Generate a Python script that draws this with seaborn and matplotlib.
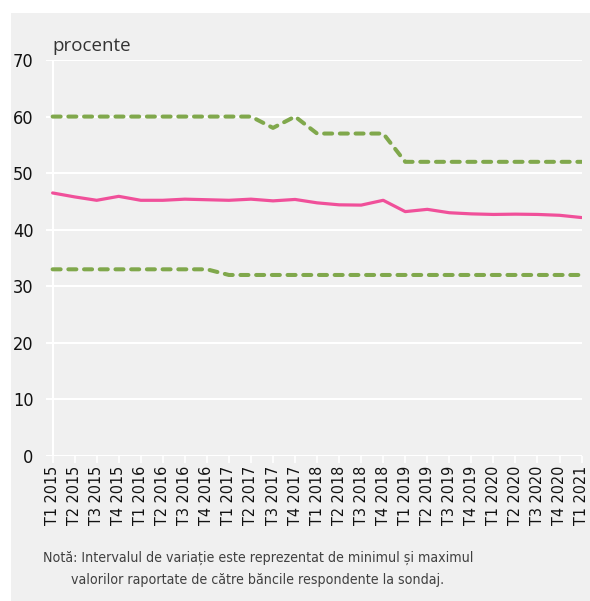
import matplotlib.pyplot as plt
import pandas as pd
import seaborn as sb
from matplotlib.patches import Rectangle

# trimestre
trimestre = ['T1 2015', 'T2 2015', 'T3 2015', 'T4 2015',
             'T1 2016', 'T2 2016', 'T3 2016', 'T4 2016',
             'T1 2017', 'T2 2017', 'T3 2017', 'T4 2017',
             'T1 2018', 'T2 2018', 'T3 2018', 'T4 2018',
             'T1 2019', 'T2 2019', 'T3 2019', 'T4 2019',
             'T1 2020', 'T2 2020', 'T3 2020', 'T4 2020',
             'T1 2021']
media = [46.5, 45.8, 45.2, 45.9, 45.2, 45.2, 45.4, 45.3, 45.2, 45.4, 45.1, 45.35,
         44.75, 44.4, 44.35, 45.2, 43.2, 43.6, 43.0, 42.8, 42.7, 42.75, 42.7, 42.55,
         42.15]
maxim = [60, 60, 60, 60, 60, 60, 60, 60, 60, 60, 58, 60,
         57, 57, 57, 57, 52, 52, 52, 52, 52, 52, 52, 52, 52]
minim = [33, 33, 33, 33, 33, 33, 33, 33, 32, 32, 32, 32,
         32, 32, 32, 32, 32, 32, 32, 32, 32, 32, 32, 32, 32]
y_ticks = [0, 10, 20, 30, 40, 50, 60, 70]

fundo = '#f0f0f0'
roz = '#f0509a'
verde = '#80a84c'

sb.set_style('whitegrid', {'axes.facecolor': fundo, 'grid.color': 'white',
                           'axes.edgecolor': fundo})
plt.rcParams['font.family'] = ['DejaVu Sans']
plt.rcParams['font.stretch'] = 'condensed'

df = pd.DataFrame({'pos': range(len(trimestre)), 'media': media,
                   'max': maxim, 'min': minim})

fig = plt.figure(figsize=(5.9, 6.01), dpi=100, facecolor='white')
fundo_fig = Rectangle((11 / 590, 0), 1, 1 - 13 / 601, transform=fig.transFigure,
                      facecolor=fundo, edgecolor='none', zorder=-10)
fig.patches.append(fundo_fig)
ax = fig.add_axes([46 / 590, 1 - 456 / 601, (582 - 46) / 590, (456 - 60) / 601])
ax.set_zorder(5)

ax.axvline(0, color='white', lw=1.5, zorder=1)
sb.lineplot(data=df, x='pos', y='media', color=roz, lw=2.3, ax=ax, zorder=3)
for col in ['max', 'min']:
    sb.lineplot(data=df, x='pos', y=col, color=verde, lw=2.9, ax=ax, zorder=2,
                linestyle=(0, (2.0, 1.9)))
for ln in ax.lines[2:]:
    ln.set_dash_capstyle('round')

ax.set_xlim(-0.3, 24.02)
ax.set_ylim(0, 70)
ax.set_yticks(y_ticks)
ax.set_xticks(range(len(trimestre)))
ax.set_xticklabels(trimestre, rotation=90, fontsize=11.5, color='#111111')
ax.tick_params(axis='y', labelsize=13, labelcolor='#111111', length=0, pad=9)
ax.tick_params(axis='x', length=5, width=1.2, color='white', direction='out', pad=2,
               bottom=True)
ax.grid(axis='x', visible=False)
ax.grid(axis='y', color='white', lw=1.5)
ax.axhline(0, color='white', lw=2, zorder=1)
for s in ax.spines.values():
    s.set_visible(False)
ax.set_xlabel('')
ax.set_ylabel('')

fig.text(52 / 590, 1 - 46 / 601, 'procente', fontsize=13.5, color='#333333',
         family=['Open Sans', 'DejaVu Sans'], va='center', ha='left',
         stretch='normal')
fig.text(258 / 590, 1 - 558 / 601,
         'Notă: Intervalul de variație este reprezentat de minimul și maximul',
         fontsize=10.2, color='#404040', ha='center', va='center')
fig.text(258 / 590, 1 - 580 / 601,
         'valorilor raportate de către băncile respondente la sondaj.',
         fontsize=10.2, color='#404040', ha='center', va='center')

fig.savefig('out.png', dpi=100, facecolor='white')
